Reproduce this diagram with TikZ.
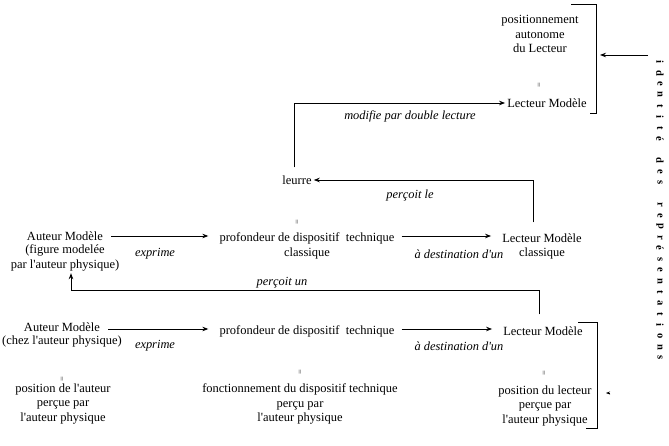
\documentclass[tikz,border=0pt]{standalone}
\usepackage{fontspec}
\setmainfont{Liberation Serif}[Ligatures=TeXOff]
\usetikzlibrary{arrows.meta}
\begin{document}
\begin{tikzpicture}[x=1pt,y=-1pt,
  txt/.style={font=\fontsize{12.5}{14.5}\selectfont, align=center, inner sep=2pt},
  lab/.style={font=\itshape\fontsize{12.4}{14}\selectfont, inner sep=1pt},
  eqs/.style={font=\fontsize{8.5}{8.5}\selectfont, rotate=90, text=black!75, inner sep=0pt},
  vt/.style={font=\bfseries\fontsize{10.5}{10.5}\selectfont, rotate=-90, inner sep=0pt},
  ln/.style={draw, line width=0.8pt},
  arr/.style={ln, -{Stealth[length=6pt,width=4.5pt]}}]
\useasboundingbox (0,0) rectangle (669,446);
\fill[white] (0,0) rectangle (669,446);

% top
\node[txt] (pos) at (540,34) {positionnement\\autonome\\du Lecteur};
\node[eqs] (e1) at (540,85) {=};
\node[txt] (lmT) at (547,103) {Lecteur Modèle};
\draw[ln] (571,4) -| (596,113) -- (590,113);
\coordinate (idT) at (648,55);
\coordinate (brT) at (600,55);
\draw[arr] (idT) -- (brT);

\node[txt] (leurre) at (297,180) {leurre};
\coordinate (c4) at (294,103);
\draw[arr, shorten <=6pt] (leurre.north -| c4) -- (c4) -- (lmT.west);
\node[lab] (l1) at (410,116) {modifie par double lecture};

% middle row
\node[txt] (amA) at (65,236) {Auteur Modèle};
\node[txt] (amB) at (65,258) {(figure modelée\\par l'auteur physique)};
\node[eqs] (e2) at (298,222) {=};
\node[txt] (pdA) at (307,238) {profondeur de dispositif~ technique};
\node[txt] (pdAc) at (307,253) {classique};
\node[txt] (lmcA) at (542,238) {Lecteur Modèle};
\node[txt] (lmcB) at (542,253) {classique};
\draw[arr, shorten <=6pt, shorten >=9pt] (amA.east) -- (amA.east -| pdA.west);
\draw[arr, shorten <=5pt, shorten >=9pt] (pdA.east |- amA.east) -- (amA.east -| lmcA.west);
\node[lab] (l2) at (155,254) {exprime};
\node[lab] (l3) at (459,254) {à destination d'un};

\coordinate (c3) at (533,180);
\draw[arr, shorten <=9pt] (lmcA.north -| c3) -- (c3) -- (leurre.east);
\node[lab] (l4) at (410,196) {perçoit le};

% lower row
\node[txt] (amL) at (62,327) {Auteur Modèle};
\node[txt] (amL2) at (62,342) {(chez l'auteur physique)};
\node[txt] (pdL) at (307,331) {profondeur de dispositif~ technique};
\node[txt] (lmL) at (543,331) {Lecteur Modèle};
\coordinate (r1) at (0,329);
\draw[arr, shorten <=6pt, shorten >=9pt] (amL.east |- r1) -- (pdL.west |- r1);
\draw[arr, shorten <=5pt, shorten >=9pt] (pdL.east |- r1) -- (lmL.west |- r1);
\node[lab] (l5) at (155,346) {exprime};
\node[lab] (l6) at (459,346) {à destination d'un};

\coordinate (c1) at (539,290);
\coordinate (c2) at (71,290);
\draw[arr, shorten <=10pt] (lmL.north -| c1) -- (c1) -- (c2) -- (c2 |- amB.south);
\node[lab] (l7) at (282,283) {perçoit un};

\node[eqs] (e3) at (63,379) {=};
\node[txt] (posA) at (63,404) {position de l'auteur\\perçue par\\l'auteur physique};
\node[eqs] (e4) at (301,372) {=};
\node[txt] (fct) at (300,404) {fonctionnement du dispositif technique\\perçu par\\l'auteur physique};
\node[eqs] (e5) at (545,373) {=};
\node[txt] (posL) at (545,406) {position du lecteur\\perçue par\\l'auteur physique};
\draw[ln] (578,322) -| (597,428) -- (586,428);
\coordinate (sa1) at (610,393);
\coordinate (sa2) at (606,393);
\draw[-{Stealth[length=4pt,width=3pt]}, line width=0.5pt] (sa1) -- (sa2);

% vertical text
\foreach \c [count=\k from 0] in {i,d,e,n,t,i,t,é,{},d,e,s,{},r,e,p,r,é,s,e,n,t,a,t,i,o,n,s}
  \node[vt] (v\k) at (660,62+10.96*\k) {\c};
\end{tikzpicture}
\end{document}
